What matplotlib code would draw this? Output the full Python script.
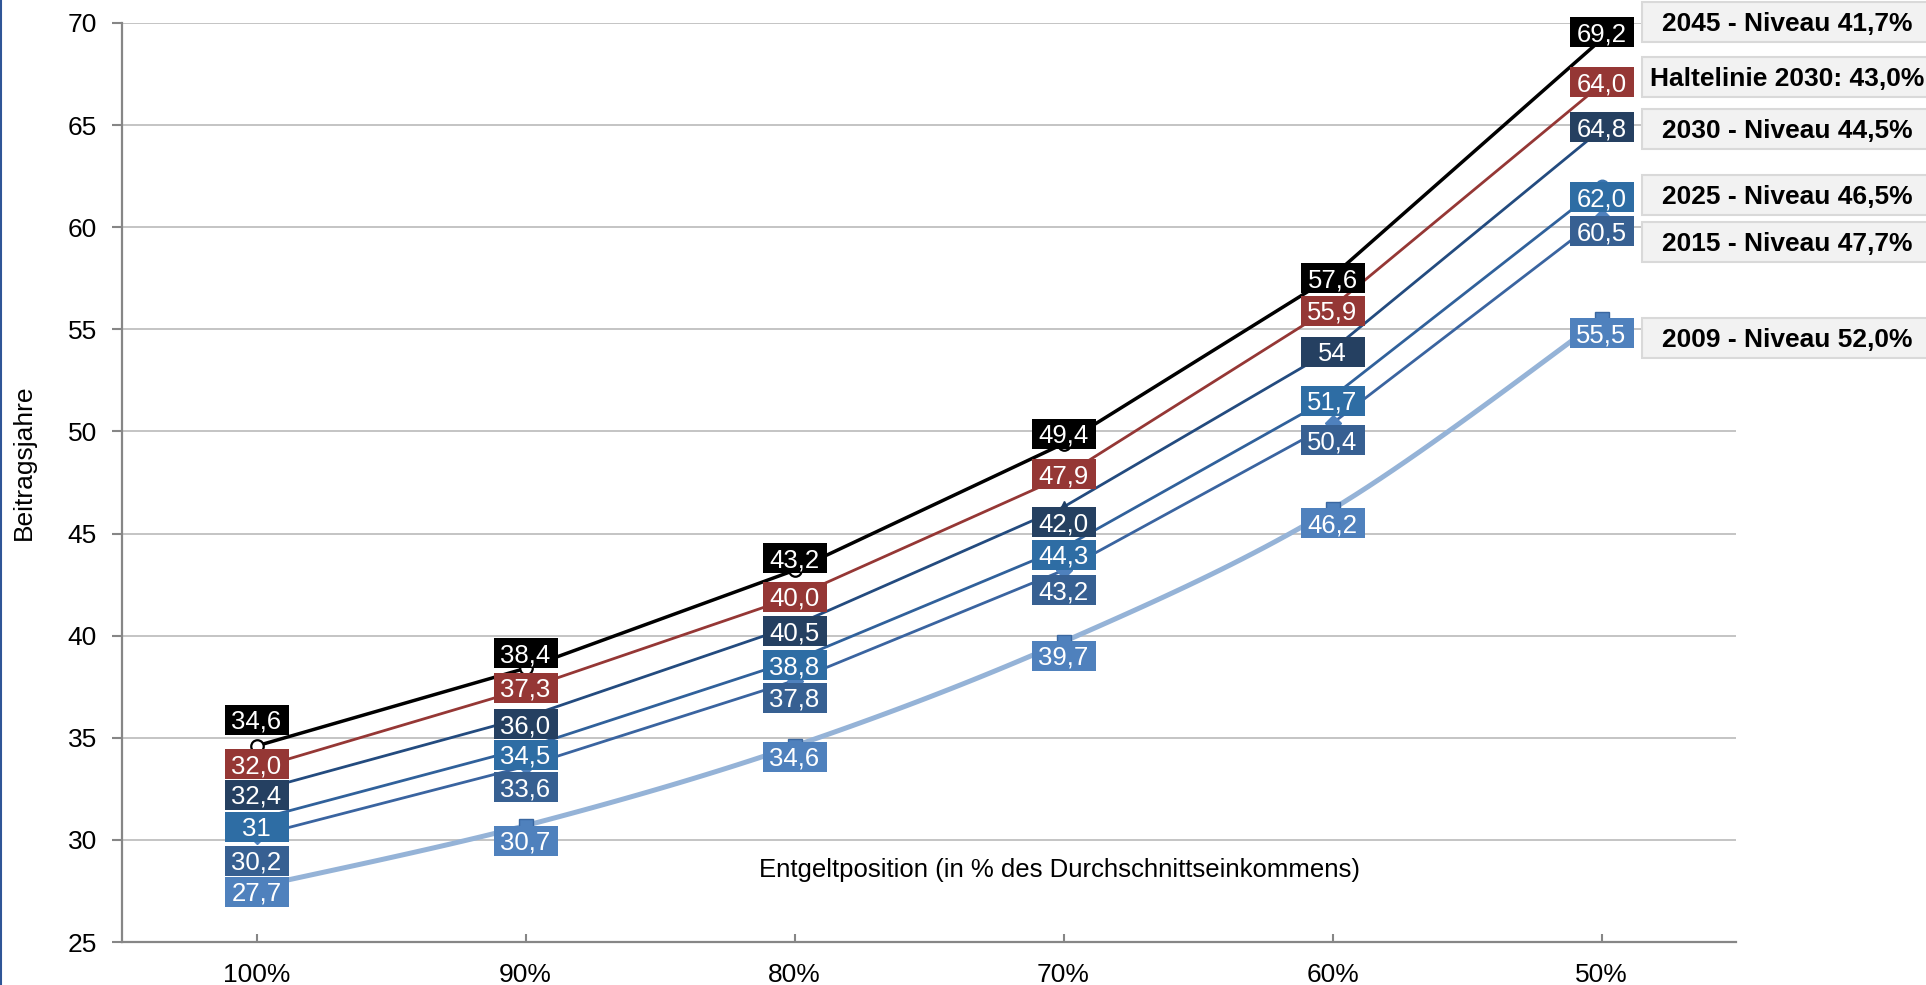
import matplotlib
matplotlib.use("Agg")
import matplotlib.pyplot as plt
import matplotlib.transforms as mtransforms
from matplotlib.patches import Rectangle
from matplotlib.lines import Line2D
import numpy as np

plt.rcParams['font.family'] = ['Liberation Sans', 'DejaVu Sans']

# Kategorien (Entgeltposition)
categories = ["100%", "90%", "80%", "70%", "60%", "50%"]

# Linienwerte (Beitragsjahre)
niveau_2045 = [34.6, 38.4, 43.2, 49.4, 57.6, 69.2]
haltelinie_2030 = [33.5, 37.4, 41.9, 47.8, 56.1, 67.0]
niveau_2030 = [32.4, 36.0, 40.5, 46.3, 54.0, 64.8]
niveau_2025 = [31.0, 34.5, 38.8, 44.3, 51.7, 62.0]
niveau_2015 = [30.2, 33.6, 37.8, 43.2, 50.4, 60.5]
niveau_2009 = [27.7, 30.7, 34.6, 39.7, 46.2, 55.5]

# Beschriftungen, wie sie im Diagramm stehen
labels_2045 = ["34,6", "38,4", "43,2", "49,4", "57,6", "69,2"]
labels_halte = ["32,0", "37,3", "40,0", "47,9", "55,9", "64,0"]
labels_2030 = ["32,4", "36,0", "40,5", "42,0", "54", "64,8"]
labels_2025 = ["31", "34,5", "38,8", "44,3", "51,7", "62,0"]
labels_2015 = ["30,2", "33,6", "37,8", "43,2", "50,4", "60,5"]
labels_2009 = ["27,7", "30,7", "34,6", "39,7", "46,2", "55,5"]

series_names = ["2045 - Niveau 41,7%", "Haltelinie 2030: 43,0%", "2030 - Niveau 44,5%",
                "2025 - Niveau 46,5%", "2015 - Niveau 47,7%", "2009 - Niveau 52,0%"]

# Layout: vertikaler Versatz der Wertekästen in Pixeln (positiv = nach oben)
label_dy = [
    [26, 15, 12, 10, -2, 7],
    [4, 1, 0, 2, -4, 2],
    [-4, -7, -6, -15, -2, 2],
    [-8, -7, -5, -7, -4, -11],
    [-25, -21, -17, -20, -17, -14],
    [-5, -15, -11, -14, -14, -14],
]
legend_y = [70.05, 67.36, 64.81, 61.58, 59.27, 54.57]


def smooth(xs, ys, n=25):
    pts = np.column_stack([xs, ys]).astype(float)
    p = np.vstack([pts[0], pts, pts[-1]])
    t = np.linspace(0, 1, n)[:, None]
    out = []
    for i in range(1, len(p) - 2):
        p0, p1, p2, p3 = p[i - 1], p[i], p[i + 1], p[i + 2]
        seg = 0.5 * (2 * p1 + (-p0 + p2) * t + (2 * p0 - 5 * p1 + 4 * p2 - p3) * t ** 2
                     + (-p0 + 3 * p1 - 3 * p2 + p3) * t ** 3)
        out.append(seg)
    out = np.vstack(out)
    return out[:, 0], out[:, 1]


W, H = 1926, 985
fig = plt.figure(figsize=(W / 100, H / 100), dpi=100)
fig.patch.set_facecolor("white")
ax = fig.add_axes([122 / W, (H - 942) / H, (1736 - 122) / W, (942 - 23) / H])

x = np.arange(len(categories))

# Linien
ax.plot(x, niveau_2045, color="black", lw=2.5, marker="o", ms=9, mfc="white", mec="black", mew=1.6, zorder=4)
ax.plot(x, haltelinie_2030, color="#953735", lw=2.0, zorder=4)
ax.plot(x, niveau_2030, color="#234B7F", lw=2.0, marker="^", ms=9, mfc="#1F3F66", mec="#1F3F66", zorder=4)
ax.plot(x, niveau_2025, color="#30619B", lw=2.0, marker="o", ms=9, mfc="#3A74B0", mec="#3A74B0", zorder=4)
ax.plot(x, niveau_2015, color="#3A64A0", lw=2.0, marker="D", ms=8, mfc="#4F81BD", mec="#4F81BD", zorder=4)
sx, sy = smooth(x, niveau_2009)
ax.plot(sx, sy, color="#95B3D7", lw=3.6, zorder=3, solid_capstyle="round")
ax.plot(x, niveau_2009, ls="none", marker="s", ms=10, mfc="#4F81BD", mec="#3A67A0", zorder=4)

# Wertekästen
box_colors = ["#000000", "#953735", "#254061", "#2E6DA4", "#376092", "#4F81BD"]
all_values = [niveau_2045, haltelinie_2030, niveau_2030, niveau_2025, niveau_2015, niveau_2009]
all_labels = [labels_2045, labels_halte, labels_2030, labels_2025, labels_2015, labels_2009]

for s, (vals, labs) in enumerate(zip(all_values, all_labels)):
    for i, (v, lab) in enumerate(zip(vals, labs)):
        trans = mtransforms.Affine2D().translate(0, label_dy[s][i]) + \
            mtransforms.ScaledTranslation(x[i], v, ax.transData)
        ax.add_patch(Rectangle((-32, -15), 64, 30, transform=trans, facecolor=box_colors[s],
                               edgecolor="none", zorder=6, clip_on=False))
        ax.text(0, -9, lab, transform=trans, ha="center", va="baseline", color="white",
                fontsize=18.5, zorder=7, clip_on=False)

# Serienbeschriftungen rechts
for name, ly in zip(series_names, legend_y):
    trans = mtransforms.ScaledTranslation(5.692, ly, ax.transData)
    ax.add_patch(Rectangle((-146, -20), 292, 40, transform=trans, facecolor="#F2F2F2",
                           edgecolor="#D9D9D9", lw=1.5, zorder=5, clip_on=False))
    ax.text(0, -9, name, transform=trans, ha="center", va="baseline", color="black",
            fontsize=19, fontweight="bold", zorder=6, clip_on=False)

# Achsen
ax.set_xlim(-0.5, 5.5)
ax.set_ylim(25, 70)
ax.set_yticks(np.arange(25, 71, 5))
ax.set_xticks(x)
ax.set_xticklabels(categories)
ax.grid(axis="y", color="#BFBFBF", lw=1.3)
ax.set_axisbelow(True)
for side in ["top", "right"]:
    ax.spines[side].set_visible(False)
for side in ["left", "bottom"]:
    ax.spines[side].set_color("#868686")
    ax.spines[side].set_linewidth(1.6)
ax.tick_params(axis="y", direction="out", length=7, width=1.5, color="#868686", labelsize=19, pad=11)
ax.tick_params(axis="x", direction="in", length=6, width=1.5, color="#868686", labelsize=19, pad=15)
ax.set_facecolor("white")

fig.text(1059 / W, 1 - 870 / H, "Entgeltposition (in % des Durchschnittseinkommens)",
         fontsize=18.5, ha="center", va="center")
fig.text(24 / W, 1 - 462 / H, "Beitragsjahre", rotation=90, ha="center", va="center", fontsize=19)

fig.add_artist(Line2D([0.0006, 0.0006], [0, 1], color="#2F5597", lw=1.5, transform=fig.transFigure))

fig.savefig("out.png", dpi=100, facecolor="white")
